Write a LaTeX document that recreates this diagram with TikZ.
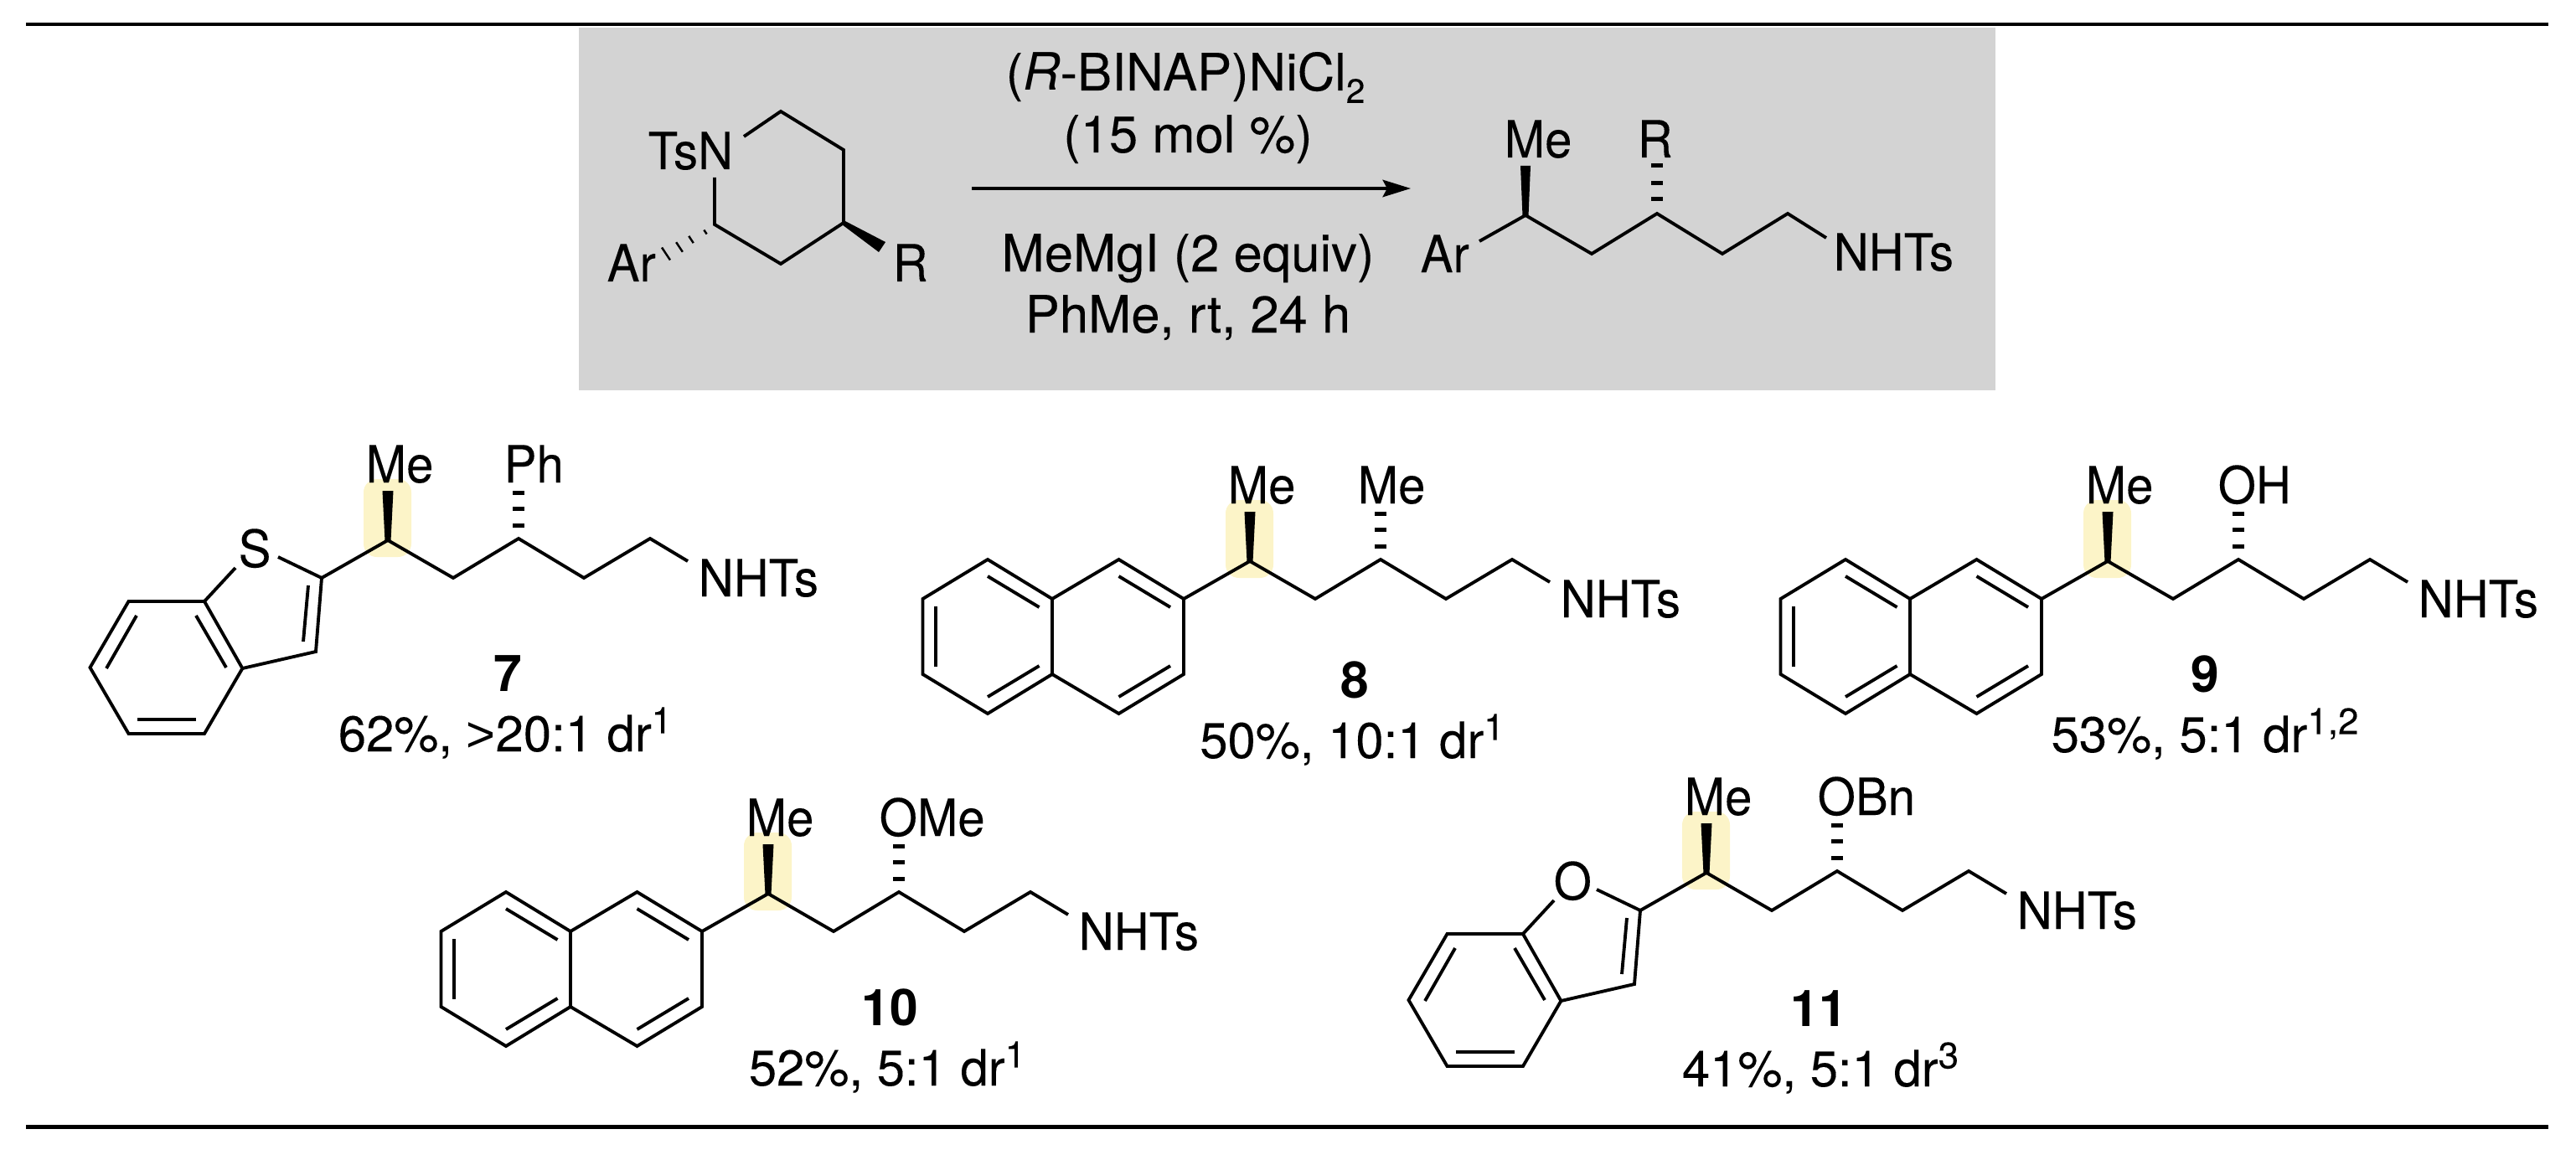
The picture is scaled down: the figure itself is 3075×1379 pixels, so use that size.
\documentclass[tikz,border=0pt]{standalone}
\usepackage{fontspec}
\setmainfont{TeX Gyre Heros}[UprightFeatures={FakeBold=0.12}]
\newfontfamily\atomfont{TeX Gyre Heros}[FakeStretch=0.95,FakeBold=0.12]
\newfontfamily\gtfont{Liberation Sans}
\usetikzlibrary{arrows.meta}
\definecolor{boxgrey}{HTML}{D3D3D3}
\definecolor{hlyellow}{HTML}{FCF4C8}

\newcommand{\supnum}[1]{\raisebox{0.36em}{\fontsize{12.5}{12.5}\selectfont #1}}
\newcommand{\subnum}[1]{\raisebox{-0.24em}{\fontsize{11.5}{11.5}\selectfont #1}}

\tikzset{
    bond/.style={line width=1.1pt,line join=miter},
    atomlabel/.style={font=\fontsize{17.4}{18}\atomfont,inner sep=0pt,anchor=base west},
    reagent/.style={font=\fontsize{17.5}{20}\selectfont,inner sep=0pt,anchor=base},
    yieldlabel/.style={font=\fontsize{17}{20}\selectfont,inner sep=0pt,anchor=base},
    cmpdlabel/.style={font=\fontsize{17.2}{20}\selectfont\bfseries,inner sep=0pt,anchor=base},
    rulebar/.style={line width=1.3pt}
}

% the chain, measured from the ring carbon it hangs on
\newcommand{\sidechain}[2]{
    \fill[hlyellow,rounded corners=4.5pt] (50,-118) rectangle (107,-25);
    \node[atomlabel] (melabel) at (52,-114) {Me};
    \node[atomlabel] (rlabel) at (#1,-114) {#2};
    \node[atomlabel] (nhts) at (449,22) {NHTs};
    \draw[bond] (0,0)--(79,-45)--(157,0)--(235,-47)--(313,0)--(392,-47)--(437,-20);
    \fill (72.5,-104)--(85.5,-104)--(82.5,-44)--(75.5,-44)--cycle;
    \foreach \y in {-102,-83,-63}
        \fill (228,\y-2.5) rectangle (242,\y+2.5);
}

\newcommand{\naphring}{
    \draw[bond] (-311.5,0)--(-234,-47)--(-157,0)--(-77.5,-47)--(0,0)--(0,90)--(-77.5,137)--(-157,90)--(-234,137)--(-311.5,90)--cycle;
    \draw[bond] (-157,0)--(-157,90);
    \draw[bond] (-234,-27)--(-172.5,10);
    \draw[bond] (-296,9)--(-296,81);
    \draw[bond] (-234,117)--(-172.5,80);
    \draw[bond] (-77.5,-27)--(-16,10);
    \draw[bond] (-16,80)--(-77.5,117);
}

\newcommand{\fusedring}[2]{
    \node[atomlabel] (hetatom) at (#1,-13) {#2};
    \draw[bond] (-230.5,28)--(-140,28)--(-94.6,108)--(-140,186)--(-230.5,186)--(-276.5,107)--cycle;
    \draw[bond] (-140,28)--(-103,-12);
    \draw[bond] (-52,-25)--(0,0)--(-7,88)--(-94.6,108);
    \draw[bond] (-16,9)--(-22,76);
    \draw[bond] (-221,45)--(-257,108);
    \draw[bond] (-150,45)--(-114,107);
    \draw[bond] (-220,169)--(-150,169);
}

\begin{document}
\begin{tikzpicture}[x=0.01cm,y=-0.01cm]
    \useasboundingbox (0,0) rectangle (3075,1379);

    \draw[rulebar] (31,29)--(3042,29);
    \draw[rulebar] (31,1345.5)--(3042,1345.5);
    \fill[boxgrey] (691,33) rectangle (2382,466);

    % reaction
    \node[reagent] (catalyst) at (1415,108) {(\textit{R}-BINAP)NiCl\subnum{2}};
    \node[reagent] (loading) at (1418,182) {(15 mol \%)};
    \node[reagent] (grignard) at (1418,324) {MeMgI (2 equiv)};
    \node[reagent] (solvent) at (1418,397) {PhMe, rt, 24 h};
    \coordinate (arrowstart) at (1160,225);
    \coordinate (arrowend) at (1684,225);
    \draw[line width=1.1pt,-{Stealth[length=9.5pt,width=5.8pt,inset=1.5pt]}] (arrowstart)--(arrowend);

    % substrate
    \node[atomlabel] (tsn) at (773,202) {TsN};
    \node[atomlabel] (subar) at (724,336) {Ar};
    \node[atomlabel] (subr) at (1065,336) {R};
    \draw[bond] (888,163)--(932,133)--(1007,179)--(1007,266)--(932,315)--(853,268)--(853,212);
    \fill (1005,268)--(1049,301)--(1057,289)--(1009,264)--cycle;
    \foreach \px/\py/\h in {842/277/3,825/286/5,811/295/7,795/303/9}
        \draw[line width=0.7pt] (\px-0.55*\h,\py-0.83*\h)--(\px+0.55*\h,\py+0.83*\h);

    % product
    \node[atomlabel] (prodme) at (1795,188) {Me};
    \node[atomlabel] (prodr) at (1954,188) {R};
    \node[atomlabel] (prodar) at (1695,325) {Ar};
    \node[atomlabel] (prodn) at (2188,323) {NHTs};
    \draw[bond] (1766,288)--(1821,257)--(1900,303)--(1978,255)--(2056,303)--(2134,255)--(2180,284);
    \fill (1815,198)--(1827,198)--(1824.5,258)--(1817.5,258)--cycle;
    \foreach \y in {198,219,238}
        \fill (1971,\y-2.5) rectangle (1985,\y+2.5);

    \begin{scope}[shift={(384,690)},name prefix=seven-]
        \sidechain{217}{Ph}
        \fusedring{-100}{S}
    \end{scope}
    \node[cmpdlabel] (cmpdseven) at (606,825) {7};
    \node[yieldlabel] (yieldseven) at (603,897) {62\%, {\gtfont >}20:1 dr\supnum{1}};

    \begin{scope}[shift={(1413,715)},name prefix=eight-]
        \sidechain{207}{Me}
        \naphring
    \end{scope}
    \node[cmpdlabel] (cmpdeight) at (1617,833) {8};
    \node[yieldlabel] (yieldeight) at (1614,905) {50\%, 10:1 dr\supnum{1}};

    \begin{scope}[shift={(2437,715)},name prefix=nine-]
        \sidechain{210}{OH}
        \naphring
    \end{scope}
    \node[cmpdlabel] (cmpdnine) at (2632,826) {9};
    \node[yieldlabel] (yieldnine) at (2632,898) {53\%, 5:1 dr\supnum{1,2}};

    \begin{scope}[shift={(838,1112)},name prefix=ten-]
        \sidechain{211}{OMe}
        \naphring
    \end{scope}
    \node[cmpdlabel] (cmpdten) at (1062,1224) {10};
    \node[yieldlabel] (yieldten) at (1059,1296) {52\%, 5:1 dr\supnum{1}};

    \begin{scope}[shift={(1958,1087)},name prefix=eleven-]
        \sidechain{211}{OBn}
        \fusedring{-104}{O}
    \end{scope}
    \node[cmpdlabel] (cmpdeleven) at (2171,1225) {11};
    \node[yieldlabel] (yieldeleven) at (2173,1297) {41\%, 5:1 dr\supnum{3}};
\end{tikzpicture}
\end{document}
